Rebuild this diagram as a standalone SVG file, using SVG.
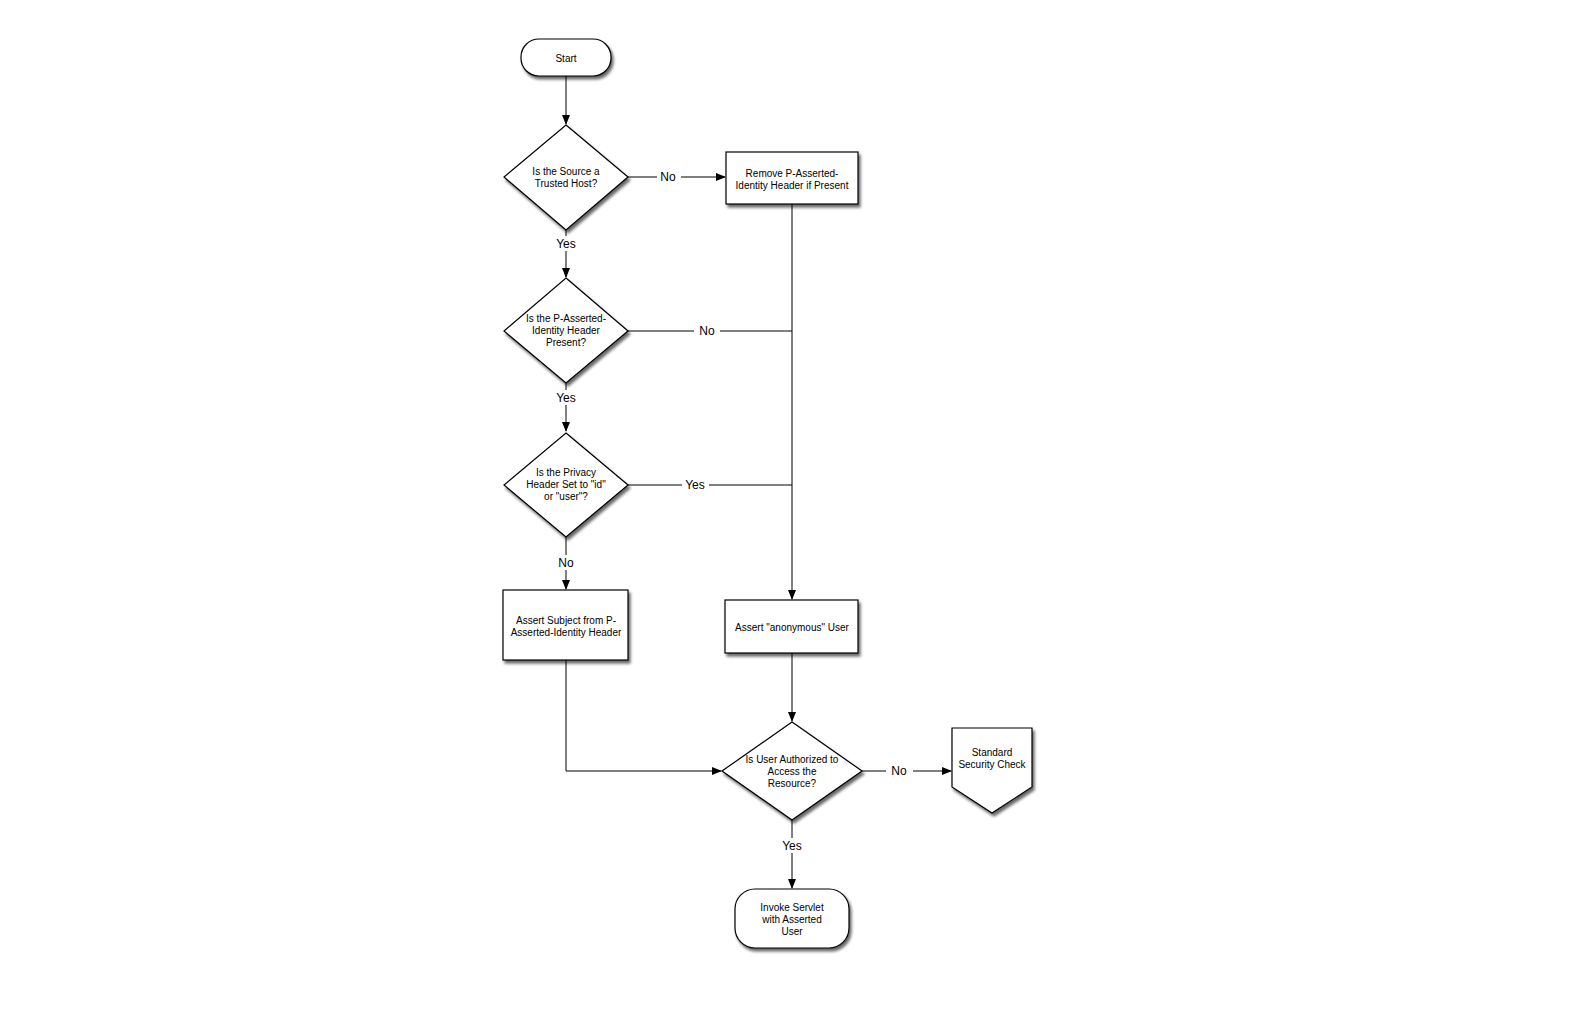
<svg xmlns="http://www.w3.org/2000/svg" width="1582" height="1009" viewBox="0 0 1582 1009">
<style>
.shape{fill:#fff;stroke:#000;stroke-width:1.2;filter:url(#sh)}
.t{font-family:"Liberation Sans",Arial,sans-serif;font-size:10px;fill:#000;text-anchor:middle}
.lbl{font-family:"Liberation Sans",Arial,sans-serif;font-size:12px;fill:#000;text-anchor:middle}
.c{fill:none;stroke:#000;stroke-width:1}
</style>
<defs>
<filter id="sh" x="-20%" y="-20%" width="150%" height="150%">
<feGaussianBlur in="SourceAlpha" stdDeviation="1.6"/>
<feOffset dx="2" dy="3" result="b"/>
<feComponentTransfer><feFuncA type="linear" slope="0.6"/></feComponentTransfer>
<feMerge><feMergeNode/><feMergeNode in="SourceGraphic"/></feMerge>
</filter>
<marker id="ar" markerWidth="10" markerHeight="8" refX="9" refY="4" orient="auto" markerUnits="userSpaceOnUse">
<path d="M0,0 L10,4 L0,8 Z" fill="#000"/>
</marker>
</defs>
<rect width="1582" height="1009" fill="#fff"/>

<g id="connectors">
<path class="c" d="M566,76 V124" marker-end="url(#ar)"/>
<path class="c" d="M628,177 H657 M681,177 H725" marker-end="url(#ar)"/>
<path class="c" d="M566,230 V236 M566,251 V277" marker-end="url(#ar)"/>
<path class="c" d="M792,204 V599" marker-end="url(#ar)"/>
<path class="c" d="M628,331 H694 M720,331 H792"/>
<path class="c" d="M566,383 V390 M566,405 V431" marker-end="url(#ar)"/>
<path class="c" d="M628,485 H682 M709,485 H792"/>
<path class="c" d="M566,537 V555 M566,570 V589" marker-end="url(#ar)"/>
<path class="c" d="M792,653 V721" marker-end="url(#ar)"/>
<path class="c" d="M566,660 V771 H721" marker-end="url(#ar)"/>
<path class="c" d="M862,771 H886 M913,771 H951" marker-end="url(#ar)"/>
<path class="c" d="M792,820 V838 M792,853 V888" marker-end="url(#ar)"/>
<text class="lbl" x="668" y="181">No</text>
<text class="lbl" x="566" y="248">Yes</text>
<text class="lbl" x="707" y="335">No</text>
<text class="lbl" x="566" y="402">Yes</text>
<text class="lbl" x="695" y="489">Yes</text>
<text class="lbl" x="566" y="567">No</text>
<text class="lbl" x="899" y="775">No</text>
<text class="lbl" x="792" y="850">Yes</text>
</g>

<g id="start">
<rect class="shape" x="521" y="39" width="90" height="37" rx="18" ry="18"/>
<text class="t" x="566" y="62">Start</text>
</g>

<g id="trusted-host">
<path class="shape" d="M566,125 L628,177 L566,230 L504,177 Z"/>
<text class="t" x="566" y="175">Is the Source a</text>
<text class="t" x="566" y="187">Trusted Host?</text>
</g>

<g id="remove-header">
<rect class="shape" x="726" y="152" width="132" height="52"/>
<text class="t" x="792" y="177">Remove P-Asserted-</text>
<text class="t" x="792" y="189">Identity Header if Present</text>
</g>

<g id="header-present">
<path class="shape" d="M566,278 L628,331 L566,383 L504,331 Z"/>
<text class="t" x="566" y="322">Is the P-Asserted-</text>
<text class="t" x="566" y="334">Identity Header</text>
<text class="t" x="566" y="346">Present?</text>
</g>

<g id="privacy-header">
<path class="shape" d="M566,433 L628,485 L566,537 L504,485 Z"/>
<text class="t" x="566" y="476">Is the Privacy</text>
<text class="t" x="566" y="488">Header Set to "id"</text>
<text class="t" x="566" y="500">or "user"?</text>
</g>

<g id="assert-subject">
<rect class="shape" x="503" y="590" width="125" height="70"/>
<text class="t" x="566" y="624">Assert Subject from P-</text>
<text class="t" x="566" y="636">Asserted-Identity Header</text>
</g>

<g id="assert-anonymous">
<rect class="shape" x="725" y="600" width="133" height="53"/>
<text class="t" x="792" y="631">Assert "anonymous" User</text>
</g>

<g id="authorized">
<path class="shape" d="M792,722 L862,771 L792,820 L722,771 Z"/>
<text class="t" x="792" y="763">Is User Authorized to</text>
<text class="t" x="792" y="775">Access the</text>
<text class="t" x="792" y="787">Resource?</text>
</g>

<g id="standard-check">
<path class="shape" d="M952,728 H1032 V787 L992,813 L952,787 Z"/>
<text class="t" x="992" y="756">Standard</text>
<text class="t" x="992" y="768">Security Check</text>
</g>

<g id="invoke-servlet">
<rect class="shape" x="735" y="889" width="114" height="59" rx="20" ry="20"/>
<text class="t" x="792" y="911">Invoke Servlet</text>
<text class="t" x="792" y="923">with Asserted</text>
<text class="t" x="792" y="935">User</text>
</g>
</svg>
